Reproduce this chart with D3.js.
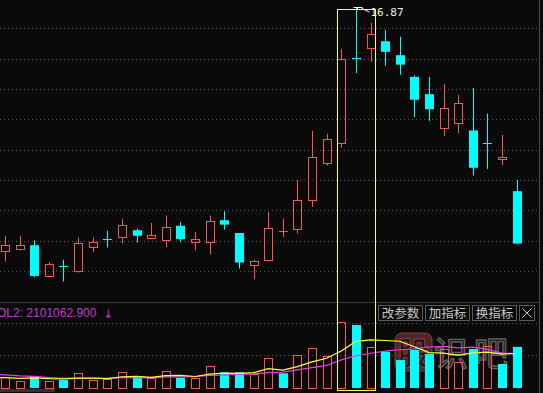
<!DOCTYPE html>
<html>
<head>
<meta charset="utf-8">
<script src="https://cdn.jsdelivr.net/npm/d3@7"></script>
<style>
  html, body { margin: 0; padding: 0; background: #0a0a0a; overflow: hidden; }
  svg { display: block; }
</style>
</head>
<body>
<svg id="chart"></svg>
<script>
// daily K data (open, close, high, low)
var opens  = [12.49,12.53,12.60,12.04,12.22,12.14,12.57,12.71,12.74,12.87,12.73,12.69,12.95,12.66,12.65,13.05,12.82,12.25,12.34,12.85,
              12.89,13.42,14.08,14.43,15.96,16.13,16.26,16.01,15.62,15.31,14.70,14.79,14.66,14.44,14.14,13.57];
var closes = [12.60,12.60,12.05,12.26,12.21,12.64,12.66,12.70,12.96,12.77,12.78,12.93,12.71,12.72,13.03,12.97,12.29,12.31,12.91,12.86,
              13.41,14.18,14.50,15.95,15.94,16.39,16.07,15.84,15.21,15.04,15.06,15.15,13.99,14.43,14.18,12.63];
var highs  = [12.77,12.77,12.69,12.30,12.34,12.74,12.74,12.86,13.07,12.90,13.00,13.13,13.02,12.84,13.13,13.21,12.82,12.34,13.20,13.08,
              13.77,14.65,14.60,16.12,16.87,16.59,16.46,16.34,15.65,15.62,15.49,15.30,15.42,14.96,14.58,13.77];
var lows   = [12.31,12.51,12.03,12.03,11.95,12.11,12.48,12.56,12.63,12.65,12.71,12.56,12.65,12.51,12.44,12.88,12.18,11.99,12.31,12.75,
              12.81,13.29,14.03,14.35,15.69,15.89,15.82,15.66,14.90,14.83,14.56,14.61,13.85,13.97,14.04,12.63];

// volume of the visible days and the ten days before them (for the averages)
var volumes = [578000,358000,614000,358000,409000,752000,409000,460000,803000,527000,527000,869000,527000,496000,1125000,803000,803000,700000,1519000,752000,
               1687000,2030000,1621000,3360000,3222000,2081000,1856000,1432000,1943000,1739000,1969000,1345000,1994000,2148000,1227000,2101062.9];
var prevVolumes = [880000,900000,800000,950000,870000,520000,560000,480000,540000,500000];

var maPeriods = [5, 10];
var selStart = 23, selEnd = 25;   // highlighted range
var buttonLabels = ["改参数", "加指标", "换指标"];

var width = 543, height = 393;
var red = "#f25a50", cyan = "#00ffff";

var svg = d3.select("#chart")
            .attr("width", width)
            .attr("height", height)
            .style("background", "#0a0a0a");

var x = d3.scaleLinear().domain([0, closes.length - 1]).range([5, 516.7]);
var y = d3.scaleLinear().domain([11.6, 17]).range([301, 0]);
var yv = d3.scaleLinear().domain([0, 4500000]).range([388, 300]);

var px = i => Math.round(x(i));

// dotted grid
svg.append("g")
   .selectAll("line")
   .data(d3.range(9).map(i => 28.3 + i * 30.33).concat([323, 354.5]))
   .enter()
   .append("line")
   .attr("x1", 0).attr("x2", 538)
   .attr("y1", d => Math.round(d) + 0.5)
   .attr("y2", d => Math.round(d) + 0.5)
   .attr("stroke", "#555")
   .attr("stroke-dasharray", "1,3");

// panel borders
svg.append("line").attr("x1", 0).attr("x2", 539).attr("y1", 302.5).attr("y2", 302.5).attr("stroke", "#3c3c3c");
svg.append("line").attr("x1", 539.5).attr("x2", 539.5).attr("y1", 0).attr("y2", height).attr("stroke", "#4a4a4a");
svg.append("rect").attr("x", 0).attr("y", 389).attr("width", 55).attr("height", 3).attr("fill", "#333");

// watermark
var wm = svg.append("g").attr("opacity", 0.75);
wm.append("rect").attr("x", 395).attr("y", 333).attr("width", 37).attr("height", 38).attr("rx", 7)
  .attr("fill", "#6a2c2c").attr("stroke", "#9a5a5a");
wm.append("text").attr("x", 413.5).attr("y", 365).attr("text-anchor", "middle")
  .attr("font-family", "Noto Sans CJK SC").attr("font-size", 32).attr("font-weight", "bold")
  .attr("fill", "#3a1414").attr("stroke", "#9a5a5a").text("股");
wm.append("text").attr("x", 434).attr("y", 366)
  .attr("font-family", "Noto Sans CJK SC").attr("font-size", 34).attr("letter-spacing", 6)
  .attr("fill", "none").attr("stroke", "#7a7a7a").attr("stroke-width", 1.5).text("识吧");

var days = closes.map((c, i) => ({ i: i, o: opens[i], c: c, h: highs[i], l: lows[i], v: volumes[i],
                                   prev: i > 0 ? closes[i - 1] : c }));

// candles
var candle = svg.append("g")
                .selectAll(".candle")
                .data(days)
                .enter()
                .append("g")
                .classed("candle", true);

candle.each(function(d){
  var g = d3.select(this);
  var cx = px(d.i) + 0.5;
  var top = y(Math.max(d.o, d.c)), bot = y(Math.min(d.o, d.c));
  var up = d.c >= d.o;
  var col = up ? red : cyan;

  // doji: just a cross
  if (bot - top < 1.5) {
    g.append("line").attr("x1", cx).attr("x2", cx).attr("y1", y(d.h)).attr("y2", y(d.l)).attr("stroke", col);
    g.append("line").attr("x1", cx - 4.5).attr("x2", cx + 4.5)
     .attr("y1", Math.round(top) + 0.5).attr("y2", Math.round(top) + 0.5).attr("stroke", col);
    return;
  }
  if (up) {
    g.append("line").attr("x1", cx).attr("x2", cx).attr("y1", y(d.h)).attr("y2", Math.round(top) + 0.5).attr("stroke", col);
    g.append("line").attr("x1", cx).attr("x2", cx).attr("y1", Math.round(bot) + 0.5).attr("y2", y(d.l)).attr("stroke", col);
    g.append("rect")
     .attr("x", cx - 4).attr("y", Math.round(top) + 0.5)
     .attr("width", 8).attr("height", Math.round(bot) - Math.round(top))
     .attr("fill", "none").attr("stroke", col);
  } else {
    g.append("line").attr("x1", cx).attr("x2", cx).attr("y1", y(d.h)).attr("y2", y(d.l)).attr("stroke", col);
    g.append("rect")
     .attr("x", cx - 4.5).attr("y", top)
     .attr("width", 9).attr("height", bot - top)
     .attr("fill", col);
  }
});

// volume bars, coloured against the previous close
svg.append("g")
   .selectAll("rect")
   .data(days)
   .enter()
   .append("rect")
   .attr("x", d => d.c >= d.prev ? px(d.i) - 3.5 : px(d.i) - 4)
   .attr("y", d => d.c >= d.prev ? Math.round(yv(d.v)) + 0.5 : yv(d.v))
   .attr("width", d => d.c >= d.prev ? 8 : 9)
   .attr("height", d => d.c >= d.prev ? Math.round(388 - yv(d.v)) : 388 - yv(d.v))
   .attr("fill", d => d.c >= d.prev ? "none" : cyan)
   .attr("stroke", d => d.c >= d.prev ? red : "none");

// volume moving averages
var allVol = prevVolumes.concat(volumes);
var off = prevVolumes.length;
var maColors = ["#ffff40", "#e83ce8"];
maPeriods.slice().reverse().forEach(function(n){
  var pts = d3.range(-1, volumes.length).map(i => ({ i: i, v: d3.mean(allVol.slice(i + off - n + 1, i + off + 1)) }));
  svg.append("path")
     .datum(pts)
     .attr("fill", "none")
     .attr("stroke", maColors[maPeriods.indexOf(n)])
     .attr("stroke-width", 1.2)
     .attr("d", d3.line().x(d => x(d.i)).y(d => yv(d.v)));
});

// selection box
svg.append("rect")
   .attr("x", px(selStart) - 3.5)
   .attr("y", 9.5)
   .attr("width", px(selEnd) - px(selStart) + 8)
   .attr("height", 381)
   .attr("fill", "none")
   .attr("stroke", "#ffff50");

// highest price marker
var hiIdx = d3.maxIndex(highs);
var hx = px(hiIdx) + 0.5, hy = y(highs[hiIdx]);
svg.append("line").attr("x1", hx - 3).attr("x2", hx + 6).attr("y1", Math.round(hy) + 0.5).attr("y2", Math.round(hy) + 0.5).attr("stroke", "#fff");
svg.append("line").attr("x1", hx + 1).attr("x2", hx + 1).attr("y1", hy).attr("y2", hy + 3).attr("stroke", "#fff");
svg.append("line").attr("x1", hx + 5).attr("x2", hx + 13).attr("y1", hy + 1).attr("y2", hy + 5).attr("stroke", "#fff");
svg.append("text")
   .attr("x", hx + 14).attr("y", hy + 9)
   .attr("font-family", "DejaVu Sans Mono").attr("font-size", 11)
   .attr("fill", "#f0f0f0")
   .text(highs[hiIdx].toFixed(2));

// volume title (its first letter runs off the left edge, as in the source)
svg.append("text")
   .attr("x", -11).attr("y", 317)
   .attr("font-family", "Liberation Sans, Arial").attr("font-size", 12)
   .attr("fill", "#c03cc8")
   .text("VOL2: " + d3.format(".3f")(volumes[volumes.length - 1]));
svg.append("text")
   .attr("x", 103).attr("y", 318)
   .attr("font-family", "DejaVu Sans").attr("font-size", 12)
   .attr("fill", "#c03cc8")
   .text("↓");

// buttons
var btn = svg.append("g")
             .selectAll("g")
             .data(buttonLabels)
             .enter()
             .append("g")
             .attr("transform", (d, i) => "translate(" + (378.5 + i * 47) + ",305.5)");
btn.append("rect").attr("width", 44).attr("height", 15).attr("fill", "#0a0a0a").attr("stroke", "#5a5a5a");
btn.append("text")
   .attr("x", 22).attr("y", 12.5)
   .attr("text-anchor", "middle")
   .attr("font-family", "Noto Sans CJK SC").attr("font-size", 12.5)
   .attr("fill", "#c8c8c8")
   .text(d => d);

var closeBtn = svg.append("g").attr("transform", "translate(519.5,305.5)");
closeBtn.append("rect").attr("width", 15).attr("height", 15).attr("fill", "#0a0a0a").attr("stroke", "#5a5a5a");
closeBtn.append("line").attr("x1", 3).attr("y1", 3).attr("x2", 12).attr("y2", 12).attr("stroke", "#c8c8c8");
closeBtn.append("line").attr("x1", 12).attr("y1", 3).attr("x2", 3).attr("y2", 12).attr("stroke", "#c8c8c8");
</script>
</body>
</html>
